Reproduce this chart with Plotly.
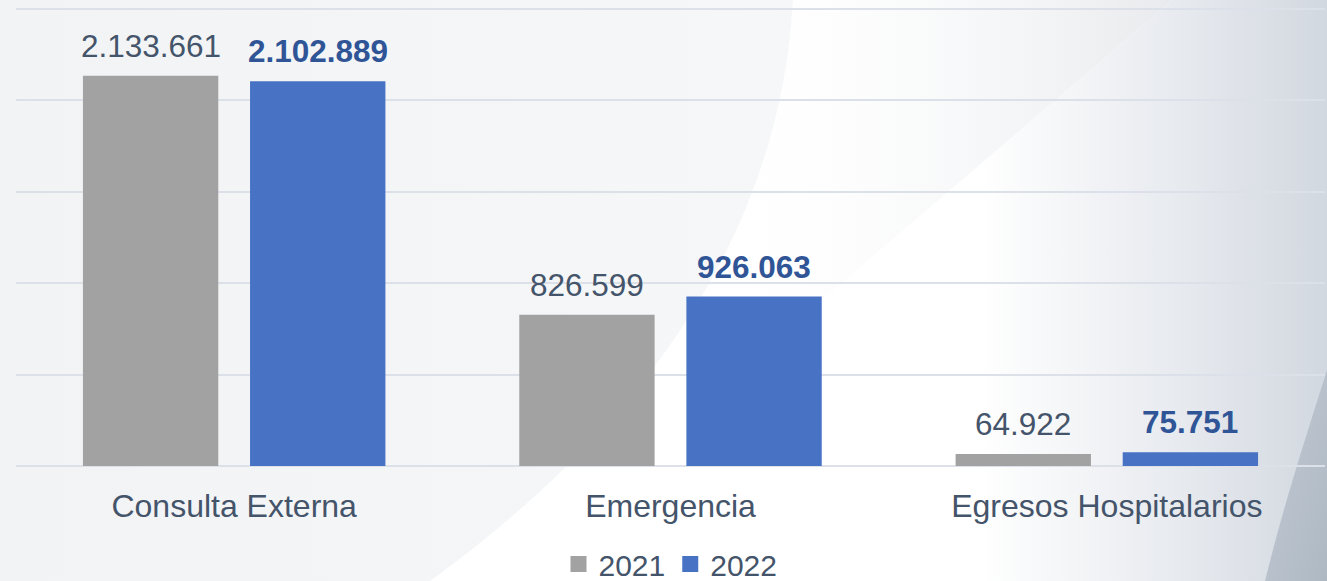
import base64
import plotly.graph_objects as go

categories = ["Consulta Externa", "Emergencia", "Egresos Hospitalarios"]
series_names = ["2021", "2022"]
values_2021 = [2133661, 826599, 64922]
values_2022 = [2102889, 926063, 75751]

W, H = 1327, 581
y_top = 2500000            # top gridline value
y_range_top = 2520000      # small headroom so the top gridline is drawn
px_zero, px_top = 466, 9   # pixel rows of 0 and y_top
px_per_unit = (px_zero - px_top) / y_top
ML, MR, MB = 16, 2, H - px_zero
MT = px_top - (y_range_top - y_top) * px_per_unit
PW, PH = W - ML - MR, H - MT - MB

svg = f'''<svg xmlns="http://www.w3.org/2000/svg" width="{W}" height="{H}" viewBox="0 0 {W} {H}" preserveAspectRatio="none">
<defs>
<linearGradient id="lg" x1="0" y1="0" x2="1" y2="0">
<stop offset="0" stop-color="#F2F3F5"/>
<stop offset="1" stop-color="#F6F7F8"/>
</linearGradient>
<linearGradient id="band" gradientUnits="userSpaceOnUse" x1="700" y1="0" x2="1173" y2="0">
<stop offset="0" stop-color="#FFFFFF" stop-opacity="0"/>
<stop offset="1" stop-color="#E8EAED" stop-opacity="1"/>
</linearGradient>
<linearGradient id="rg" gradientUnits="userSpaceOnUse" x1="980" y1="0" x2="1327" y2="0">
<stop offset="0" stop-color="#FFFFFF"/>
<stop offset="0.6" stop-color="#E6E9EE"/>
<stop offset="1" stop-color="#D2D8E0"/>
</linearGradient>
<linearGradient id="cg" x1="0" y1="0" x2="1" y2="1">
<stop offset="0" stop-color="#C3CBD4"/>
<stop offset="1" stop-color="#AEB8C3"/>
</linearGradient>
</defs>
<rect x="0" y="0" width="{W}" height="{H}" fill="#FFFFFF"/>
<path d="M0,0 L793,0 Q775,330 430,581 L0,581 Z" fill="url(#lg)"/>
<path d="M793,0 L1173,0 L493,581 L430,581 Q775,330 793,0 Z" fill="url(#band)"/>
<path d="M1173,0 L1327,0 L1327,581 L493,581 Z" fill="url(#rg)"/>
<path d="M1327,370 C1305,440 1285,500 1265,581 L1327,581 Z" fill="url(#cg)"/>
</svg>'''
bg_src = "data:image/svg+xml;base64," + base64.b64encode(svg.encode()).decode()

font_family = "Liberation Sans, Arial, sans-serif"
text_color = "#44546A"
bold_color = "#2F5597"
gray = "#A2A2A2"
blue = "#4872C4"

bargap, bargroupgap = 0.234, 0.19

fig = go.Figure()
fig.add_trace(go.Bar(
    name=series_names[0], x=categories, y=values_2021,
    marker=dict(color=gray, line=dict(width=0)), showlegend=False,
))
fig.add_trace(go.Bar(
    name=series_names[1], x=categories, y=values_2022,
    marker=dict(color=blue, line=dict(width=0)), showlegend=False,
))
# legend entries with larger square swatches
for name, col in zip(series_names, [gray, blue]):
    fig.add_trace(go.Scatter(
        name=name, x=[None], y=[None], mode="markers",
        marker=dict(symbol="square", size=16, color=col),
    ))

# value labels placed above each bar (offset = half of one bar slot)
cat_px = PW / len(categories)
slot_px = (1 - bargap) * cat_px / 2
annotations = []
for vals, sign, fmt, col in [
    (values_2021, -1, "{}", text_color),
    (values_2022, 1, "<b>{}</b>", bold_color),
]:
    for c, v in zip(categories, vals):
        label = f"{v:,}".replace(",", ".")
        annotations.append(dict(
            x=c, y=v, xref="x", yref="y", text=fmt.format(label),
            showarrow=False, xanchor="center", yanchor="bottom",
            xshift=sign * slot_px / 2, yshift=10,
            font=dict(family=font_family, size=31.5, color=col),
        ))

fig.update_layout(
    width=W, height=H,
    margin=dict(l=ML, r=MR, t=MT, b=MB, autoexpand=False),
    paper_bgcolor="rgba(0,0,0,0)",
    plot_bgcolor="rgba(0,0,0,0)",
    separators=",.",
    barmode="group",
    bargap=bargap,
    bargroupgap=bargroupgap,
    font=dict(family=font_family, size=30, color=text_color),
    showlegend=True,
    legend=dict(
        orientation="h", x=0.5, xanchor="center", y=-(564 - px_zero) / PH, yanchor="middle",
        font=dict(family=font_family, size=30, color=text_color),
        bgcolor="rgba(0,0,0,0)", itemsizing="trace",
    ),
    xaxis=dict(
        showgrid=False, showline=False, ticks="", ticklabelstandoff=18,
        tickfont=dict(family=font_family, size=32, color=text_color),
    ),
    yaxis=dict(
        range=[0, y_range_top], tick0=0, dtick=500000, showticklabels=False,
        showgrid=True, gridcolor="#DCE0E8", gridwidth=1.5,
        zeroline=True, zerolinecolor="#DCE0E8", zerolinewidth=1.5,
        showline=False, ticks="",
    ),
    annotations=annotations,
    images=[dict(
        source=bg_src, xref="paper", yref="paper",
        x=-ML / PW, y=1 + MT / PH, sizex=W / PW, sizey=H / PH,
        xanchor="left", yanchor="top", sizing="stretch", layer="below",
    )],
)

fig.write_html(
    "out.html",
    config={"displayModeBar": False},
    post_script="document.body.style.margin='0';document.body.style.overflow='hidden';",
)
